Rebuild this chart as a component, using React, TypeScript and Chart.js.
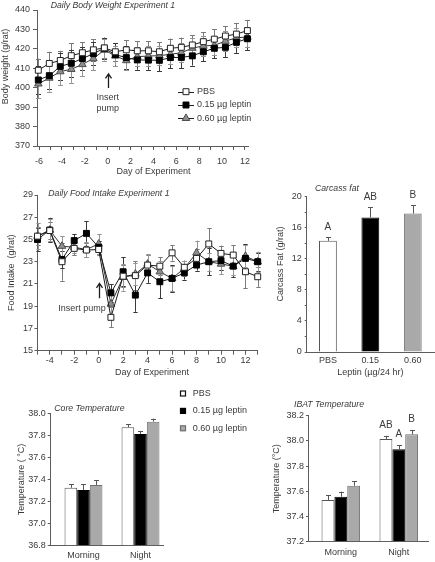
import React, { useEffect, useRef } from "react";
import { Chart, registerables } from "chart.js";

Chart.register(...registerables);

const FONT = "'Liberation Sans', Arial, Helvetica, sans-serif";
const TEXT = "#3a3a3a";
const AXIS = "#5c5c5c";

// ---------- Series naming / style ----------
const seriesNames = ["PBS", "0.15 µg leptin", "0.60 µg leptin"];
const markerStyles = ["rect", "rect", "triangle"];
const markerFill = ["#ffffff", "#000000", "#8e8e8e"];
const markerStroke = ["#222222", "#000000", "#4e4e4e"];
const errColors = ["#7a7a7a", "#3a3a3a", "#959595"];
const barFill = ["#ffffff", "#000000", "#a9a9a9"];
const barStroke = ["#555555", "#000000", "#6f6f6f"];

// ---------- Panel 1: Daily body weight ----------
const bwDays = [-6.06, -5.1, -4.14, -3.18, -2.21, -1.25, -0.29, 0.67, 1.63, 2.59, 3.56, 4.52, 5.48, 6.44, 7.4, 8.36, 9.32, 10.29, 11.25, 12.21];
const bwPBS = [409, 412.5, 414, 416.5, 418, 419.5, 420.5, 418.5, 419.5, 419, 419, 418.5, 420.3, 420.8, 422, 423.7, 425, 426.6, 427.6, 429.4];
const bwPBSErr = [6, 6, 5, 6.5, 5.5, 5.5, 5, 4.5, 5, 5, 5, 5, 5, 5, 5, 5, 5, 5, 5.5, 5.5];
const bwLow = [404, 406.2, 411, 412.6, 415, 417.5, 420.3, 417, 415.5, 414.3, 414.2, 414.1, 415.5, 415.6, 416.4, 418.5, 420.3, 420.8, 423.4, 425.2];
const bwLowErr = [7, 7, 7, 7, 6, 6, 5.5, 6, 6, 5, 5, 5.5, 5.5, 5.5, 5, 5, 5, 5, 5.5, 6];
const bwHigh = [402, 405, 408.3, 409.5, 412, 415, 419.4, 416.4, 414, 416, 416.3, 416.5, 417.2, 418, 420.4, 421.5, 421.8, 424, 425.7, 426.1];
const bwHighErr = [7.5, 7, 7, 7, 6, 6, 5.5, 5, 5, 5, 5, 5, 5, 5, 5, 5, 5, 5, 5, 5];
const bwYTicks = [370, 380, 390, 400, 410, 420, 430, 440];
const bwXTicks = [-6, -5, -4, -3, -2, -1, 0, 1, 2, 3, 4, 5, 6, 7, 8, 9, 10, 11, 12];

// ---------- Panel 2: Daily food intake ----------
const fiDays = [-5, -4, -3, -2, -1, 0, 1, 2, 3, 4, 5, 6, 7, 8, 9, 10, 11, 12, 13];
const fiPBS = [25.3, 25.8, 23.0, 24.2, 24.05, 24.1, 18.0, 21.7, 21.75, 22.7, 22.6, 23.8, 22.5, 23.3, 24.6, 23.75, 23.6, 22.1, 21.65];
const fiPBSErr = [0.8, 0.8, 1.7, 0.6, 0.6, 0.5, 0.9, 1.0, 1.3, 0.9, 0.8, 0.7, 0.6, 0.8, 1.4, 0.7, 0.9, 1.5, 0.9];
const fiLow = [25.0, 25.85, 23.2, 24.9, 25.55, 24.3, 20.2, 22.1, 20.0, 22.0, 21.2, 21.5, 22.0, 22.7, 23.0, 23.1, 22.6, 23.3, 23.0];
const fiLowErr = [1.0, 1.1, 0.8, 0.6, 1.1, 0.6, 0.8, 1.3, 1.5, 0.9, 1.5, 1.2, 0.6, 0.5, 1.2, 0.8, 1.0, 1.3, 0.8];
const fiHigh = [25.3, 25.85, 24.4, 24.3, 24.1, 24.6, 19.2, 21.6, 21.9, 22.8, 22.1, 21.5, 22.4, 23.8, 23.0, 22.8, 22.6, 23.5, 23.0];
const fiHighErr = [1.2, 1.0, 0.9, 0.5, 0.7, 0.9, 0.9, 1.2, 1.0, 0.9, 1.0, 1.1, 0.7, 1.1, 0.8, 0.9, 0.8, 1.0, 0.9];
const fiYTicks = [15, 17, 19, 21, 23, 25, 27, 29];
const fiXTicks = [-5, -4, -3, -2, -1, 0, 1, 2, 3, 4, 5, 6, 7, 8, 9, 10, 11, 12, 13];

// ---------- Panel 3: Carcass fat ----------
const fatGroups = ["PBS", "0.15", "0.60"];
const fatValues = [14.3, 17.3, 17.8];
const fatErr = [0.45, 1.3, 1.05];
const fatLetters = ["A", "AB", "B"];
const fatYTicks = [0, 2, 4, 6, 8, 10, 12, 14, 16, 18, 20];

// ---------- Panels 4 & 5: temperatures ----------
const periods = ["Morning", "Night"];
const periodPos = [1, 2];
const corePBS = [37.325, 37.873];
const corePBSErr = [0.03, 0.027];
const coreLow = [37.305, 37.812];
const coreLowErr = [0.05, 0.028];
const coreHigh = [37.35, 37.924];
const coreHighErr = [0.045, 0.028];
const coreYTicks = [36.8, 37.0, 37.2, 37.4, 37.6, 37.8, 38.0];

const ibatPBS = [37.531, 38.015];
const ibatPBSErr = [0.04, 0.025];
const ibatLow = [37.557, 37.933];
const ibatLowErr = [0.04, 0.034];
const ibatHigh = [37.644, 38.052];
const ibatHighErr = [0.036, 0.034];
const ibatLetters = ["AB", "A", "B"];
const ibatYTicks = [37.2, 37.4, 37.6, 37.8, 38.0, 38.2];

// ---------- helpers ----------
function fixedSize(size: number, horizontal: boolean) {
  return (s: any) => {
    if (horizontal) s.height = size;
    else s.width = size;
    s.paddingLeft = 0;
    s.paddingRight = 0;
    s.paddingTop = 0;
    s.paddingBottom = 0;
  };
}

function setTicks(values: number[]) {
  return (s: any) => {
    s.ticks = values.map((v) => ({ value: v }));
  };
}

function font(size = 9, italic = false) {
  return `${italic ? "italic " : ""}${size}px ${FONT}`;
}

function drawMarker(ctx: CanvasRenderingContext2D, style: string, x: number, y: number, r: number, fill: string, stroke: string) {
  ctx.beginPath();
  if (style === "rect") {
    const s = r * Math.SQRT1_2;
    ctx.rect(x - s, y - s, 2 * s, 2 * s);
  } else {
    const a = (2 * Math.PI) / 3;
    ctx.moveTo(x, y - r);
    ctx.lineTo(x + r * Math.sin(a), y - r * Math.cos(a));
    ctx.lineTo(x + r * Math.sin(2 * a), y - r * Math.cos(2 * a));
    ctx.closePath();
  }
  ctx.fillStyle = fill;
  ctx.fill();
  ctx.lineWidth = 1;
  ctx.strokeStyle = stroke;
  ctx.stroke();
}

function makeErrorBars(phase: "before" | "after", upOnly: boolean, cap: number) {
  const draw = (chart: any) => {
    const ctx = chart.ctx;
    const y = chart.scales.y;
    chart.data.datasets.forEach((ds: any, i: number) => {
      if (!ds.errors) return;
      const meta = chart.getDatasetMeta(i);
      ctx.save();
      ctx.strokeStyle = ds.errorColor || "#555";
      ctx.lineWidth = 1;
      meta.data.forEach((el: any, j: number) => {
        const raw = ds.data[j];
        const v = typeof raw === "number" ? raw : raw.y;
        const e = ds.errors[j];
        const top = y.getPixelForValue(v + e);
        const bot = y.getPixelForValue(upOnly ? v : v - e);
        const x = Math.round(el.x) + 0.5;
        ctx.beginPath();
        ctx.moveTo(x, top);
        ctx.lineTo(x, bot);
        ctx.moveTo(x - cap, Math.round(top) + 0.5);
        ctx.lineTo(x + cap, Math.round(top) + 0.5);
        if (!upOnly) {
          ctx.moveTo(x - cap, Math.round(bot) + 0.5);
          ctx.lineTo(x + cap, Math.round(bot) + 0.5);
        }
        ctx.stroke();
      });
      ctx.restore();
    });
  };
  return {
    id: "errorBars",
    beforeDatasetsDraw(chart: any) {
      if (phase === "before") draw(chart);
    },
    afterDatasetsDraw(chart: any) {
      if (phase === "after") draw(chart);
    },
  };
}

type TextItem = { text: string; x: number; y: number; data?: boolean; size?: number; italic?: boolean; align?: CanvasTextAlign; rotate?: boolean };
type ArrowItem = { x: number; y1: number; y2: number };
type LegendSpec = { kind: "line" | "box"; x: number; y: number; dy: number; textX: number };
type LetterItem = { dataset: number; index: number; text: string };

function makeAnnot(spec: { texts?: TextItem[]; arrows?: ArrowItem[]; legend?: LegendSpec; letters?: LetterItem[] }) {
  return {
    id: "annot",
    afterDraw(chart: any) {
      const ctx: CanvasRenderingContext2D = chart.ctx;
      const xs = chart.scales.x;
      const ys = chart.scales.y;
      (spec.texts || []).forEach((t) => {
        ctx.save();
        ctx.font = font(t.size || 9, t.italic);
        ctx.fillStyle = TEXT;
        ctx.textAlign = t.align || "left";
        ctx.textBaseline = "middle";
        const x = t.data ? xs.getPixelForValue(t.x) : t.x;
        const y = t.data ? ys.getPixelForValue(t.y) : t.y;
        if (t.rotate) {
          ctx.translate(x, y);
          ctx.rotate(-Math.PI / 2);
          ctx.fillText(t.text, 0, 0);
        } else {
          ctx.fillText(t.text, x, y);
        }
        ctx.restore();
      });
      (spec.arrows || []).forEach((a) => {
        const x = Math.round(xs.getPixelForValue(a.x)) + 0.5;
        const yb = ys.getPixelForValue(a.y1);
        const yt = ys.getPixelForValue(a.y2);
        ctx.save();
        ctx.strokeStyle = "#1e1e1e";
        ctx.lineWidth = 1.3;
        ctx.beginPath();
        ctx.moveTo(x, yb);
        ctx.lineTo(x, yt);
        ctx.moveTo(x - 3, yt + 4.5);
        ctx.lineTo(x, yt);
        ctx.lineTo(x + 3, yt + 4.5);
        ctx.stroke();
        ctx.restore();
      });
      if (spec.legend) {
        const L = spec.legend;
        seriesNames.forEach((name, i) => {
          const y = L.y + i * L.dy;
          ctx.save();
          if (L.kind === "line") {
            ctx.strokeStyle = "#222";
            ctx.lineWidth = 1;
            ctx.beginPath();
            ctx.moveTo(L.x - 8, Math.round(y) + 0.5);
            ctx.lineTo(L.x + 8, Math.round(y) + 0.5);
            ctx.stroke();
            drawMarker(ctx, markerStyles[i], L.x, y, markerStyles[i] === "rect" ? 4.2 : 4.4, markerFill[i], markerStroke[i]);
          } else {
            ctx.fillStyle = barFill[i];
            ctx.fillRect(L.x - 2.5, y - 2.5, 5, 5);
            ctx.strokeStyle = i === 0 ? "#111" : barStroke[i];
            ctx.lineWidth = 1.2;
            ctx.strokeRect(L.x - 2.5, y - 2.5, 5, 5);
          }
          ctx.font = font(9);
          ctx.fillStyle = TEXT;
          ctx.textAlign = "left";
          ctx.textBaseline = "middle";
          ctx.fillText(name, L.textX, y);
          ctx.restore();
        });
      }
      (spec.letters || []).forEach((l) => {
        const ds: any = chart.data.datasets[l.dataset];
        const el: any = chart.getDatasetMeta(l.dataset).data[l.index];
        const raw = ds.data[l.index];
        const v = typeof raw === "number" ? raw : raw.y;
        const top = ys.getPixelForValue(v + ds.errors[l.index]);
        ctx.save();
        ctx.font = font(10);
        ctx.fillStyle = TEXT;
        ctx.textAlign = "center";
        ctx.textBaseline = "middle";
        ctx.fillText(l.text, el.x, top - 10.5);
        ctx.restore();
      });
    },
  };
}

function baseAxis(opts: any) {
  const ticks: any = {
    autoSkip: false,
    maxRotation: 0,
    minRotation: 0,
    padding: opts.padding,
    font: { family: FONT, size: 9 },
    color: TEXT,
  };
  if (opts.callback) ticks.callback = opts.callback;
  return {
    grid: { display: true, drawOnChartArea: false, drawTicks: opts.tickLength > 0, tickLength: opts.tickLength, color: AXIS, lineWidth: 1 },
    border: { display: true, color: AXIS, width: 1 },
    ticks,
  };
}

const commonOptions = {
  animation: false,
  responsive: false,
  maintainAspectRatio: false,
  events: [],
};

// ---------- chart builders ----------
function lineDataset(i: number, xs: number[], ys: number[], errs: number[]) {
  return {
    label: seriesNames[i],
    data: xs.map((x, k) => ({ x, y: ys[k] })),
    errors: errs,
    errorColor: errColors[i],
    borderColor: i === 2 ? "#333" : "#1a1a1a",
    borderWidth: 1,
    pointStyle: markerStyles[i],
    pointRadius: markerStyles[i] === "rect" ? 4.2 : 4.4,
    pointBackgroundColor: markerFill[i],
    pointBorderColor: markerStroke[i],
    pointBorderWidth: 1,
    tension: 0,
    fill: false,
    clip: false,
  };
}

function buildBodyWeight(): any {
  return {
    type: "line",
    data: {
      datasets: [
        lineDataset(0, bwDays, bwPBS, bwPBSErr),
        lineDataset(1, bwDays, bwLow, bwLowErr),
        lineDataset(2, bwDays, bwHigh, bwHighErr),
      ],
    },
    options: {
      ...commonOptions,
      layout: { padding: { left: 0, top: 10, right: 42, bottom: 5 } },
      plugins: { legend: { display: false }, tooltip: { enabled: false } },
      scales: {
        x: {
          type: "linear",
          min: -6.175,
          max: 12.263,
          afterFit: fixedSize(31, true),
          afterBuildTicks: setTicks(bwXTicks),
          ...baseAxis({ tickLength: 4, padding: 6.6, callback: (v: number) => (v % 2 === 0 ? String(v) : "") }),
        },
        y: {
          type: "linear",
          min: 370,
          max: 440,
          afterFit: fixedSize(37, false),
          afterBuildTicks: setTicks(bwYTicks),
          ...baseAxis({ tickLength: 4, padding: 3, callback: (v: number) => String(v) }),
        },
      },
    },
    plugins: [
      makeErrorBars("before", false, 2.5),
      makeAnnot({
        texts: [
          { text: "Daily Body Weight Experiment 1", x: 50.7, y: 6, italic: true, size: 8.7 },
          { text: "Body weight (g/rat)", x: 5.5, y: 66.5, rotate: true, align: "center" },
          { text: "Day of Experiment", x: 153.5, y: 171.7, align: "center" },
          { text: "Insert", x: 0, y: 395.1, data: true, align: "center" },
          { text: "pump", x: 0, y: 389.4, data: true, align: "center" },
        ],
        arrows: [{ x: 0, y1: 399.8, y2: 407.1 }],
        legend: { kind: "line", x: 186, y: 91.7, dy: 13.3, textX: 197 },
      }),
    ],
  };
}

function buildFoodIntake(): any {
  return {
    type: "line",
    data: {
      datasets: [
        lineDataset(0, fiDays, fiPBS, fiPBSErr),
        lineDataset(1, fiDays, fiLow, fiLowErr),
        lineDataset(2, fiDays, fiHigh, fiHighErr),
      ],
    },
    options: {
      ...commonOptions,
      layout: { padding: { left: 0, top: 15, right: 32.3, bottom: 1.3 } },
      plugins: { legend: { display: false }, tooltip: { enabled: false } },
      scales: {
        x: {
          type: "linear",
          min: -5,
          max: 13,
          afterFit: fixedSize(28, true),
          afterBuildTicks: setTicks(fiXTicks),
          ...baseAxis({ tickLength: 4, padding: 0, callback: (v: number) => (v % 2 === 0 ? String(v) : "") }),
        },
        y: {
          type: "linear",
          min: 15,
          max: 29,
          afterFit: fixedSize(37.5, false),
          afterBuildTicks: setTicks(fiYTicks),
          title: { display: true, text: "Food Intake  (g/rat)", font: { family: FONT, size: 9 }, color: TEXT, padding: { top: 6.5, bottom: 0 } },
          ...baseAxis({ tickLength: 3, padding: 1.5, callback: (v: number) => String(v) }),
        },
      },
    },
    plugins: [
      makeErrorBars("before", false, 2.2),
      makeAnnot({
        texts: [
          { text: "Daily Food Intake Experiment 1", x: 48.3, y: 13.3, italic: true, size: 8.7 },
          { text: "Day of Experiment", x: 152, y: 193, align: "center" },
          { text: "Insert pump", x: -3.3, y: 18.81, data: true },
        ],
        arrows: [{ x: 0, y1: 19.71, y2: 21.06 }],
      }),
    ],
  };
}

function buildCarcass(): any {
  return {
    type: "bar",
    data: {
      labels: fatGroups,
      datasets: [
        {
          label: "Carcass fat",
          data: fatValues,
          errors: fatErr,
          errorColor: "#555",
          backgroundColor: barFill,
          borderColor: barStroke,
          borderWidth: 1,
          categoryPercentage: 1,
          barPercentage: 0.42,
        },
      ],
    },
    options: {
      ...commonOptions,
      layout: { padding: { left: 0, top: 16.5, right: 1, bottom: 1.9 } },
      plugins: { legend: { display: false }, tooltip: { enabled: false } },
      scales: {
        x: {
          type: "category",
          afterFit: fixedSize(26.1, true),
          title: { display: true, text: "Leptin (µg/24 hr)", font: { family: FONT, size: 9 }, color: TEXT, padding: { top: 0, bottom: 0 } },
          ...baseAxis({ tickLength: 0, padding: 3.6, callback: (_v: any, i: number) => fatGroups[i] }),
        },
        y: {
          type: "linear",
          min: 0,
          max: 20,
          afterFit: fixedSize(34.7, false),
          afterBuildTicks: setTicks(fatYTicks),
          ...baseAxis({ tickLength: 2, padding: 3, callback: (v: number) => (v % 4 === 0 ? String(v) : "") }),
        },
      },
    },
    plugins: [
      makeErrorBars("after", true, 2.5),
      makeAnnot({
        texts: [
          { text: "Carcass fat", x: 43, y: 9, italic: true, size: 8.7 },
          { text: "Carcass Fat (g/rat)", x: 9, y: 84, rotate: true, align: "center" },
        ],
        letters: fatLetters.map((t, i) => ({ dataset: 0, index: i, text: t })),
      }),
    ],
  };
}

function barDataset(i: number, vals: number[], errs: number[], base: number) {
  return {
    label: seriesNames[i],
    data: periodPos.map((p, k) => ({ x: p, y: vals[k] })),
    errors: errs,
    errorColor: "#555",
    backgroundColor: barFill[i],
    borderColor: barStroke[i],
    borderWidth: 1,
    base,
    categoryPercentage: 0.665,
    barPercentage: 1,
  };
}

function tempX(min: number, max: number, height: number, pad: number) {
  return {
    type: "linear",
    min,
    max,
    offset: false,
    afterFit: fixedSize(height, true),
    afterBuildTicks: setTicks(periodPos),
    ...baseAxis({ tickLength: 0, padding: pad, callback: (v: number) => periods[periodPos.indexOf(v)] || "" }),
    grid: { display: true, drawOnChartArea: false, drawTicks: false, tickLength: 0, color: AXIS, offset: false },
  };
}

function buildCore(): any {
  return {
    type: "bar",
    data: {
      datasets: [
        barDataset(0, corePBS, corePBSErr, 36.8),
        barDataset(1, coreLow, coreLowErr, 36.8),
        barDataset(2, coreHigh, coreHighErr, 36.8),
      ],
    },
    options: {
      ...commonOptions,
      layout: { padding: { left: 0, top: 28.3, right: 101.7, bottom: 0.3 } },
      plugins: { legend: { display: false }, tooltip: { enabled: false } },
      scales: {
        x: tempX(0.4246, 2.4, 16, 4.6),
        y: {
          type: "linear",
          min: 36.8,
          max: 38.0,
          afterFit: fixedSize(50.7, false),
          afterBuildTicks: setTicks(coreYTicks),
          title: { display: true, text: "Temperature ( °C)", font: { family: FONT, size: 9 }, color: TEXT, padding: { top: 16.3, bottom: 0 } },
          ...baseAxis({ tickLength: 3, padding: 2, callback: (v: number) => v.toFixed(1) }),
        },
      },
    },
    plugins: [
      makeErrorBars("after", true, 2.5),
      makeAnnot({
        texts: [{ text: "Core Temperature", x: 54.3, y: 23.3, italic: true, size: 8.7 }],
        legend: { kind: "box", x: 183, y: 8.5, dy: 17.4, textX: 192.7 },
      }),
    ],
  };
}

function buildIbat(): any {
  return {
    type: "bar",
    data: {
      datasets: [
        barDataset(0, ibatPBS, ibatPBSErr, 37.2),
        barDataset(1, ibatLow, ibatLowErr, 37.2),
        barDataset(2, ibatHigh, ibatHighErr, 37.2),
      ],
    },
    options: {
      ...commonOptions,
      layout: { padding: { left: 0, top: 30.7, right: 6.7, bottom: 2.3 } },
      plugins: { legend: { display: false }, tooltip: { enabled: false } },
      scales: {
        x: tempX(0.434, 2.509, 18, 5.9),
        y: {
          type: "linear",
          min: 37.2,
          max: 38.2,
          afterFit: fixedSize(43, false),
          afterBuildTicks: setTicks(ibatYTicks),
          title: { display: true, text: "Temperature (°C)", font: { family: FONT, size: 9 }, color: TEXT, padding: { top: 6.3, bottom: 0 } },
          ...baseAxis({ tickLength: 2, padding: 2, callback: (v: number) => v.toFixed(1) }),
        },
      },
    },
    plugins: [
      makeErrorBars("after", true, 2.5),
      makeAnnot({
        texts: [{ text: "IBAT Temperature", x: 29, y: 20, italic: true, size: 8.7 }],
        letters: ibatLetters.map((t, i) => ({ dataset: i, index: 1, text: t })),
      }),
    ],
  };
}

function ChartCanvas(props: { left: number; top: number; width: number; height: number; build: () => any }) {
  const ref = useRef<HTMLCanvasElement>(null);
  useEffect(() => {
    const chart = new Chart(ref.current as HTMLCanvasElement, props.build());
    return () => chart.destroy();
  }, []);
  return (
    <canvas
      ref={ref}
      width={props.width}
      height={props.height}
      style={{ position: "absolute", left: props.left, top: props.top, width: props.width, height: props.height }}
    />
  );
}

export default function App() {
  return (
    <div style={{ position: "absolute", left: 0, top: 0, width: 435, height: 562, background: "#ffffff", overflow: "hidden" }}>
      <ChartCanvas left={0} top={0} width={290} height={182} build={buildBodyWeight} />
      <ChartCanvas left={0} top={180} width={290} height={200} build={buildFoodIntake} />
      <ChartCanvas left={272} top={180} width={163} height={200} build={buildCarcass} />
      <ChartCanvas left={0} top={385} width={265} height={177} build={buildCore} />
      <ChartCanvas left={265} top={385} width={170} height={177} build={buildIbat} />
    </div>
  );
}
